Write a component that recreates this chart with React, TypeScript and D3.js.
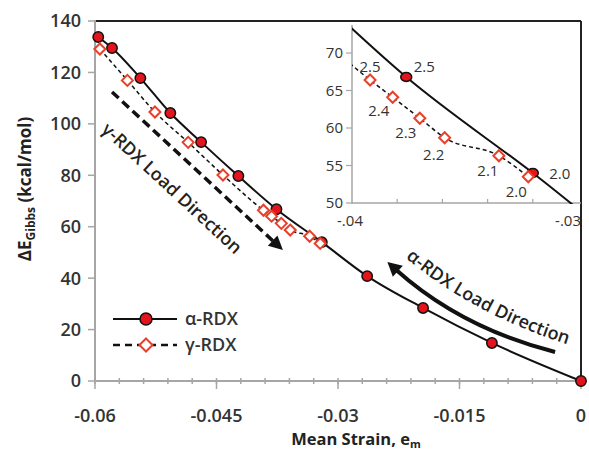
import React from "react";
import * as d3 from "d3";

// ---- data ----
const alphaX = [-0.0596, -0.0579, -0.0544, -0.0507, -0.0469, -0.0423, -0.0376, -0.032, -0.0264, -0.0195, -0.011, 0];
const alphaY = [133.8, 129.5, 117.8, 104.2, 92.9, 79.7, 66.8, 54.0, 40.8, 28.4, 14.8, 0];
const gammaX = [-0.0594, -0.056, -0.0526, -0.0485, -0.0442, -0.0392, -0.0382, -0.037, -0.0359, -0.0335, -0.0322];
const gammaY = [129.1, 116.9, 104.6, 92.8, 80.1, 66.4, 64.1, 61.3, 58.7, 56.3, 53.5];

const xTicks = [-0.06, -0.045, -0.03, -0.015, 0];
const xTickLabels = ["-0.06", "-0.045", "-0.03", "-0.015", "0"];
const yTicks = [0, 20, 40, 60, 80, 100, 120, 140];

const insetXTicks = [-0.04, -0.03];
const insetXTickLabels = ["-.04", "-.03"];
const insetYTicks = [50, 55, 60, 65, 70];

// inset point labels (in order of the points that fall inside the inset)
const alphaInsetIdx = [6, 7];
const alphaInsetLabels = ["2.5", "2.0"];
const gammaInsetIdx = [5, 6, 7, 8, 9, 10];
const gammaInsetLabels = ["2.5", "2.4", "2.3", "2.2", "2.1", "2.0"];

// annotation arrows in data coordinates
const gammaArrow = [[-0.0579, 112.4], [-0.0368, 50.9]];
const alphaArrow = [[-0.0032, 11.3], [-0.0148, 20.6], [-0.0239, 46.3]]; // tail, control, tip

// ---- layout ----
const W = 589, H = 449;
const x = d3.scaleLinear().domain([-0.06, 0]).range([95, 581]);
const y = d3.scaleLinear().domain([0, 140]).range([381, 21]);
const xi = d3.scaleLinear().domain([-0.04, -0.03]).range([352, 578]);
const yi = d3.scaleLinear().domain([50, 70]).range([203, 53]);

const RED = "#e3141b";
const DRED = "#e8402a";
const GRAY = "#a6a6a6";
const TXT = "#333";
const FONT = "'Open Sans', 'DejaVu Sans', sans-serif";

const alphaPts = alphaX.map((v, i) => [v, alphaY[i]] as [number, number]);
const gammaPts = gammaX.map((v, i) => [v, gammaY[i]] as [number, number]);

const diamond = (s: number) => `M0,${-s}L${s},0L0,${s}L${-s},0Z`;

const alphaOff = [[18, -10], [27, 1]];
const gammaOff = [[0, -13], [-14, 13], [-14, 14], [-11, 17], [-11, 15], [-12, 15]];

export default function App() {
  const line = d3.line<[number, number]>().x(d => x(d[0])).y(d => y(d[1])).curve(d3.curveMonotoneX);
  const lineI = d3.line<[number, number]>().x(d => xi(d[0])).y(d => yi(d[1])).curve(d3.curveMonotoneX);

  const minorX = d3.range(-0.06, 0.0001, 0.003);
  const insetMinor = d3.range(-0.038, -0.0301, 0.002);

  const gA0 = [x(gammaArrow[0][0]), y(gammaArrow[0][1])];
  const gA1 = [x(gammaArrow[1][0]), y(gammaArrow[1][1])];
  const gAng = Math.atan2(gA1[1] - gA0[1], gA1[0] - gA0[0]);
  const gHeadLen = 14;
  const gLineEnd = [gA1[0] - Math.cos(gAng) * gHeadLen * 0.8, gA1[1] - Math.sin(gAng) * gHeadLen * 0.8];

  const aT = alphaArrow.map(p => [x(p[0]), y(p[1])]);
  const aAng = Math.atan2(aT[2][1] - aT[1][1], aT[2][0] - aT[1][0]);
  const aHead = 14;
  const aEnd = [aT[2][0] - Math.cos(aAng) * aHead * 0.8, aT[2][1] - Math.sin(aAng) * aHead * 0.8];

  const head = (tip: number[], ang: number, len: number, wid: number) => {
    const bx = tip[0] - Math.cos(ang) * len, by = tip[1] - Math.sin(ang) * len;
    const px = -Math.sin(ang) * wid, py = Math.cos(ang) * wid;
    return `M${tip[0]},${tip[1]}L${bx + px},${by + py}L${bx - px},${by - py}Z`;
  };

  const gTextC = [x(-0.0505), y(75.0)];
  const alphaTextPath = `M${aT[2][0] + 9},${aT[2][1] - 12} Q${aT[1][0] + 10},${aT[1][1] - 12} ${aT[0][0] + 24},${aT[0][1] - 4}`;

  return (
    <svg width={W} height={H} style={{ position: "absolute", left: 0, top: 0, background: "#fff" }} fontFamily={FONT}>
      <defs>
        <clipPath id="insetClip">
          <rect x={352} y={24} width={229} height={180} />
        </clipPath>
        <clipPath id="insetTextClip">
          <rect x={300} y={0} width={282} height={240} />
        </clipPath>
        <path id="alphaTextPath" d={alphaTextPath} />
      </defs>

      {/* frame top/right */}
      <line x1={95} y1={21} x2={581} y2={21} stroke="#222" strokeWidth={2} />
      <line x1={581} y1={21} x2={581} y2={381} stroke="#222" strokeWidth={2} />

      {/* y axis */}
      <line x1={95} y1={20} x2={95} y2={382} stroke={GRAY} strokeWidth={2} />
      {yTicks.map(t => (
        <g key={t}>
          <line x1={88} x2={95} y1={y(t)} y2={y(t)} stroke={GRAY} strokeWidth={1.5} />
          <text x={81} y={y(t)} dy="0.36em" textAnchor="end" fontSize={18} fontWeight={600} fill={TXT}>{t}</text>
        </g>
      ))}

      {/* x axis */}
      <line x1={95} y1={381} x2={581} y2={381} stroke={GRAY} strokeWidth={2} />
      {minorX.map((t, i) => (
        <line key={i} x1={x(t)} x2={x(t)} y1={378} y2={384} stroke={GRAY} strokeWidth={1.5} />
      ))}
      {xTicks.map((t, i) => (
        <g key={t}>
          <line x1={x(t)} x2={x(t)} y1={381} y2={389} stroke={GRAY} strokeWidth={1.5} />
          <text x={x(t)} y={422} textAnchor="middle" fontSize={18} fontWeight={600} fill={TXT}>{xTickLabels[i]}</text>
        </g>
      ))}

      {/* axis titles */}
      <text x={356} y={445} textAnchor="middle" fontSize={16.5} fontWeight={700} fill="#222">
        Mean Strain, e<tspan fontSize={11} dy={2.5}>m</tspan>
      </text>
      <text transform={`translate(31,189) rotate(-90)`} textAnchor="middle" fontSize={17} fontWeight={700} fill="#222">
        ΔE<tspan fontSize={12} dy={4}>Gibbs</tspan><tspan dy={-4}> (kcal/mol)</tspan>
      </text>

      {/* series */}
      <path d={line(alphaPts) || ""} fill="none" stroke="#111" strokeWidth={2} />
      {alphaPts.map((p, i) => (
        <circle key={i} cx={x(p[0])} cy={y(p[1])} r={5.2} fill={RED} stroke="#111" strokeWidth={1.5} />
      ))}
      <path d={line(gammaPts) || ""} fill="none" stroke="#111" strokeWidth={1.5} strokeDasharray="4,3" />
      {gammaPts.map((p, i) => (
        <path key={i} d={diamond(5.5)} transform={`translate(${x(p[0])},${y(p[1])})`} fill="#fff" stroke={DRED} strokeWidth={2} />
      ))}

      {/* gamma load direction */}
      <line x1={gA0[0]} y1={gA0[1]} x2={gLineEnd[0]} y2={gLineEnd[1]} stroke="#111" strokeWidth={3.5} strokeDasharray="9,5" />
      <path d={head(gA1, gAng, gHeadLen, 7)} fill="#111" />
      <text transform={`translate(${gTextC[0]},${gTextC[1]}) rotate(${(gAng * 180) / Math.PI})`} textAnchor="middle" dy="0.35em" fontSize={18} fontWeight={600} fill="#222">
        γ-RDX Load Direction
      </text>

      {/* alpha load direction */}
      <path d={`M${aT[0][0]},${aT[0][1]} Q${aT[1][0]},${aT[1][1]} ${aEnd[0]},${aEnd[1]}`} fill="none" stroke="#111" strokeWidth={4} />
      <path d={head(aT[2], aAng, aHead, 7.5)} fill="#111" />
      <text fontSize={18} fontWeight={600} fill="#222">
        <textPath href="#alphaTextPath" startOffset="50%" textAnchor="middle">α-RDX Load Direction</textPath>
      </text>

      {/* legend */}
      <line x1={113} x2={177} y1={319} y2={319} stroke="#111" strokeWidth={2} />
      <circle cx={146} cy={319} r={6} fill={RED} stroke="#111" strokeWidth={1.5} />
      <text x={185} y={319} dy="0.36em" fontSize={18} fontWeight={600} fill={TXT}>α-RDX</text>
      <line x1={113} x2={177} y1={345} y2={345} stroke="#111" strokeWidth={2.5} strokeDasharray="7,5" />
      <path d={diamond(6.5)} transform="translate(146,345)" fill="#fff" stroke={DRED} strokeWidth={2} />
      <text x={185} y={345} dy="0.36em" fontSize={18} fontWeight={600} fill={TXT}>γ-RDX</text>

      {/* inset */}
      <g>
        <line x1={352} y1={25} x2={352} y2={204} stroke={GRAY} strokeWidth={1.5} />
        <line x1={352} y1={203} x2={581} y2={203} stroke={GRAY} strokeWidth={1.5} />
        {insetYTicks.map(t => (
          <g key={t}>
            <line x1={346} x2={352} y1={yi(t)} y2={yi(t)} stroke={GRAY} strokeWidth={1.2} />
            <text x={343} y={yi(t)} dy="0.36em" textAnchor="end" fontSize={15} fill={TXT}>{t}</text>
          </g>
        ))}
        {insetMinor.map((t, i) => (
          <line key={i} x1={xi(t)} x2={xi(t)} y1={199} y2={203} stroke={GRAY} strokeWidth={1.2} />
        ))}
        <g clipPath="url(#insetTextClip)">
          {insetXTicks.map((t, i) => (
            <text key={t} x={i === 0 ? xi(t) - 2 : xi(t) + 3} y={226} textAnchor={i === 0 ? "middle" : "end"} fontSize={15} fill={TXT}>{insetXTickLabels[i]}</text>
          ))}
        </g>
        <g clipPath="url(#insetClip)">
          <path d={lineI(alphaPts) || ""} fill="none" stroke="#111" strokeWidth={2} />
          <path d={lineI(gammaPts) || ""} fill="none" stroke="#111" strokeWidth={1.5} strokeDasharray="4,3" />
        </g>
        {alphaInsetIdx.map((k, i) => (
          <g key={"a" + k}>
            <ellipse cx={xi(alphaX[k])} cy={yi(alphaY[k])} rx={5.5} ry={4.5} fill={RED} stroke="#111" strokeWidth={1.5} />
            <text x={xi(alphaX[k]) + alphaOff[i][0]} y={yi(alphaY[k]) + alphaOff[i][1]} dy="0.36em" textAnchor="middle" fontSize={15} fill={TXT}>{alphaInsetLabels[i]}</text>
          </g>
        ))}
        {gammaInsetIdx.map((k, i) => (
          <g key={"g" + k}>
            <path d={diamond(5.5)} transform={`translate(${xi(gammaX[k])},${yi(gammaY[k])})`} fill="#fff" stroke={DRED} strokeWidth={2} />
            <text x={xi(gammaX[k]) + gammaOff[i][0]} y={yi(gammaY[k]) + gammaOff[i][1]} dy="0.36em" textAnchor="middle" fontSize={15} fill={TXT}>{gammaInsetLabels[i]}</text>
          </g>
        ))}
      </g>
    </svg>
  );
}
